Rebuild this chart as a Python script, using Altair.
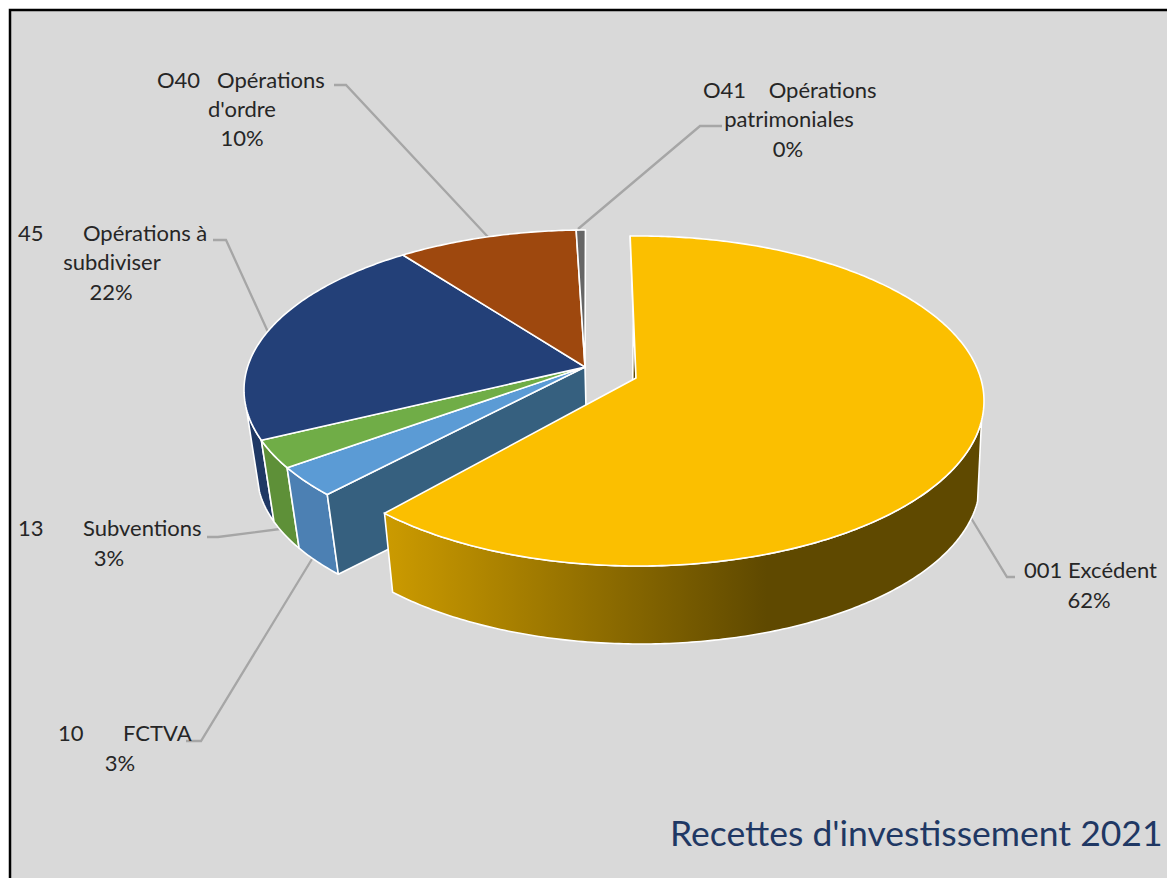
import math
import altair as alt

# ---- data -----------------------------------------------------------------
categories = ["001 Excédent", "10 FCTVA", "13 Subventions", "45 Opérations à subdiviser",
              "O40 Opérations d'ordre", "O41 Opérations patrimoniales"]
shares = [62.4, 3.0, 2.8, 22.0, 9.8, 0.5]
top_colors = ["#FBBF00", "#5B9BD5", "#70AD47", "#234078", "#9E480E", "#666666"]
side_colors = {"10 FCTVA": "#4C80B3", "13 Subventions": "#5E9038", "45 Opérations à subdiviser": "#1F3864"}
cut_color = "#36607F"

label_lines = [
    ("O40\u00a0\u00a0\u00a0Opérations", 157, 81, "left"),
    ("d'ordre", 242, 110, "center"),
    ("10%", 242, 139, "center"),
    ("O41\u00a0\u00a0\u00a0\u00a0Opérations", 703, 91, "left"),
    ("patrimoniales", 789, 120, "center"),
    ("0%", 788, 150, "center"),
    ("45\u00a0\u00a0\u00a0\u00a0\u00a0\u00a0\u00a0Opérations à", 18, 234, "left"),
    ("subdiviser", 112, 263, "center"),
    ("22%", 111, 293, "center"),
    ("13\u00a0\u00a0\u00a0\u00a0\u00a0\u00a0\u00a0Subventions", 18, 529, "left"),
    ("3%", 109, 559, "center"),
    ("10\u00a0\u00a0\u00a0\u00a0\u00a0\u00a0\u00a0FCTVA", 58, 734, "left"),
    ("3%", 120, 764, "center"),
    ("001 Excédent", 1024, 571, "left"),
    ("62%", 1089, 601, "center"),
]
title_text = "Recettes d'investissement 2021"

leaders = [
    [(334, 85), (346, 85), (488, 237)],
    [(722, 126), (700, 126), (578, 229)],
    [(213, 240), (226, 240), (268, 332)],
    [(207, 537), (218, 537), (280, 529)],
    [(186, 741), (201, 741), (312, 559)],
    [(1015, 577), (1007, 577), (968, 513)],
]

# ---- perspective model of the two discs ------------------------------------
D = 0.144
OFF = 8


def project(theta_deg, disc):
    t = math.radians(theta_deg)
    sx, cy = math.sin(t), math.cos(t)
    k = 1 + D * cy
    xn = sx * math.sqrt(1 - D * D) / k
    yn = (cy + D) / k
    cx, cyy, rx, ry = disc
    return (cx + rx * xn, cyy - ry * yn)


MAIN_TOP = (587, 390, 343, 160)
MAIN_BOT = (592, 473, 335, 155)
EXP_TOP = (638, 401, 346, 165)
EXP_BOT = (641, 482, 339, 162)
APEX_MAIN = (585, 367)
APEX_MAIN_B = (587, 450)
APEX_EXP = (636, 378)
APEX_EXP_B = (632, 456)
ROT_EXP = -1.5
ROT_MAIN = -0.3
EXP_END_TRIM = -0.7


def arc(a0, a1, disc):
    n = max(2, int(abs(a1 - a0) * 1.5))
    return [project(a0 + (a1 - a0) * i / n, disc) for i in range(n + 1)]


def feature(points, fill="none"):
    ring = [[x, y] for x, y in points] + [[points[0][0], points[0][1]]]
    return {"type": "Feature", "properties": {"fill": fill},
            "geometry": {"type": "Polygon", "coordinates": [ring]}}


total = sum(shares)
edges = [0.0]
for s in shares:
    edges.append(edges[-1] + s / total * 360)

idx = {c: i for i, c in enumerate(categories)}
exp_end = edges[1]
exp_stop = exp_end + ROT_EXP + EXP_END_TRIM


def wedge_side(a0, a1, top, bot):
    return arc(a0, a1, top) + arc(a1, a0, bot)


PROJ = dict(type="identity", scale=1, translate=[-OFF, -OFF])


def shape_layer(feats):
    return alt.Chart(alt.Data(values=feats)).mark_geoshape(
        stroke="white", strokeWidth=1.6, strokeJoin="round"
    ).encode(color=alt.Color("properties.fill:N", scale=None, legend=None)).project(**PROJ)


# back-to-front
main_feats = []
a0 = edges[idx["45 Opérations à subdiviser"]] + ROT_MAIN
main_feats.append(feature(wedge_side(a0, a0 + 11, MAIN_TOP, MAIN_BOT), side_colors["45 Opérations à subdiviser"]))
for c in ["13 Subventions", "10 FCTVA"]:
    i = idx[c]
    main_feats.append(feature(wedge_side(edges[i] + ROT_MAIN, edges[i + 1] + ROT_MAIN, MAIN_TOP, MAIN_BOT), side_colors[c]))
main_feats.append(feature([APEX_MAIN, project(exp_end + ROT_MAIN, MAIN_TOP),
                           project(exp_end + ROT_MAIN, MAIN_BOT), APEX_MAIN_B], cut_color))
for i in range(1, len(categories)):
    pts = [APEX_MAIN] + arc(edges[i] + ROT_MAIN, edges[i + 1] + ROT_MAIN, MAIN_TOP)
    main_feats.append(feature(pts, top_colors[i]))

exp_back = [feature([project(ROT_EXP, EXP_TOP), APEX_EXP, APEX_EXP_B, project(ROT_EXP, EXP_BOT)], "#5F4900")]
exp_top = [feature([APEX_EXP] + arc(ROT_EXP, exp_stop, EXP_TOP), top_colors[0])]
exp_side = feature(wedge_side(105, exp_stop, EXP_TOP, EXP_BOT))

side_gradient = alt.LinearGradient(
    gradient="linear", x1=0, x2=1, y1=0, y2=0,
    stops=[alt.GradientStop(offset=0, color="#CC9B00"),
           alt.GradientStop(offset=0.64, color="#5F4900"),
           alt.GradientStop(offset=1, color="#5F4900")],
)

frame = alt.Chart().mark_rect(fill="#D9D9D9", stroke="#000000", strokeWidth=2.5).encode(
    x=alt.value(10 - OFF), x2=alt.value(1300), y=alt.value(10 - OFF), y2=alt.value(1000)
)

layers = [frame]

leader_feats = [{"type": "Feature", "properties": {},
                 "geometry": {"type": "LineString", "coordinates": [[x, y] for x, y in pts]}} for pts in leaders]
layers.append(alt.Chart(alt.Data(values=leader_feats)).mark_geoshape(
    filled=False, stroke="#A6A6A6", strokeWidth=2.3).project(**PROJ))

layers.append(shape_layer(main_feats))
layers.append(shape_layer(exp_back))
layers.append(alt.Chart(alt.Data(values=[exp_side])).mark_geoshape(
    fill=side_gradient, stroke="white", strokeWidth=1.6).project(**PROJ))
layers.append(shape_layer(exp_top))

for text, x, y, align in label_lines:
    layers.append(alt.Chart().mark_text(
        text=text, align=align, baseline="middle", font="Lato", fontSize=22, color="#262626"
    ).encode(x=alt.value(x - OFF), y=alt.value(y - OFF)))

layers.append(alt.Chart().mark_text(
    text=title_text, align="left", baseline="middle", font="Lato", fontSize=35.5, color="#1F3864"
).encode(x=alt.value(670 - OFF), y=alt.value(835 - OFF)))

chart = alt.layer(*layers).properties(
    width=1159, height=870, padding=0, background="white",
    autosize=alt.AutoSizeParams(type="none"),
).configure_view(stroke=None)

chart.save("out.html", embed_options={"renderer": "svg", "actions": False})
